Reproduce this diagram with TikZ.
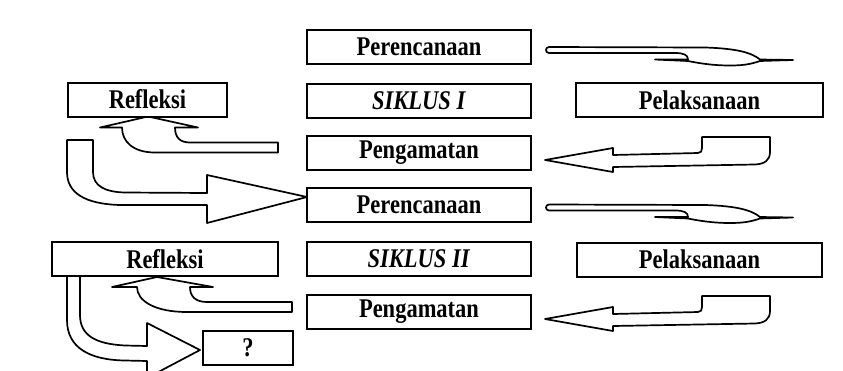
\documentclass[tikz,border=0pt]{standalone}
\usepackage{fontspec}
\usepackage{graphicx}
\setmainfont{Liberation Serif}
\usetikzlibrary{backgrounds}
\newcommand{\tall}[1]{\scalebox{1}[1.2]{#1}}
\tikzset{
  box/.style={draw, fill=white, line width=2pt, inner sep=0pt, outer sep=0pt,
    minimum height=34pt, font=\fontsize{22.5}{26}\selectfont\bfseries},
  blockarrow/.style={draw, fill=white, line width=1.7pt, line join=round}
}
\begin{document}
\begin{tikzpicture}[x=1pt, y=-1pt]
    \useasboundingbox (0,0) rectangle (843,370);
    \clip (0,0) rectangle (843,370);

    % siklus I
    \node [box, minimum width=224pt] (P1) at (419,47) {\tall{Perencanaan}};
    \node [box, minimum width=224pt] (S1) at (419,100.5) {\tall{\textit{SIKLUS I}}};
    \node [box, minimum width=224pt] (G1) at (419,152.5) {\tall{Pengamatan}};
    \node [box, minimum width=159pt] (R1) at (147.5,99.5) {\tall{Refleksi}};
    \node [box, minimum width=247pt] (L1) at (699.5,100) {\tall{Pelaksanaan}};

    % siklus II
    \node [box, minimum width=224pt] (P2) at (419,204.5) {\tall{Perencanaan}};
    \node [box, minimum width=224pt] (S2) at (419,259) {\tall{\textit{SIKLUS II}}};
    \node [box, minimum width=224pt] (G2) at (419,311.5) {\tall{Pengamatan}};
    \node [box, minimum width=226pt] (R2) at (165,259) {\tall{Refleksi}};
    \node [box, minimum width=245pt] (L2) at (699.5,259.5) {\tall{Pelaksanaan}};
    \node [box, minimum width=90pt] (Q) at (248,347.5) {\tall{?}};

    \begin{scope}[on background layer]
    % perencanaan -> pelaksanaan
    \foreach \p in {P1,P2}
      \draw [blockarrow, shift={(\p.east)}] (18,0) -- (174,0.5) .. controls (207,1.5) and (221,6) .. (229,12.5)
        -- (262,13) -- (229,14) .. controls (219,17.5) and (211,18.5) .. (199,18.5)
        .. controls (181,18.5) and (167,16) .. (157,14) -- (124,12.5) -- (157,12.5)
        .. controls (157,8) and (153,6) .. (144,6) -- (18,6) .. controls (14,6) and (14,0) .. cycle;

    % pelaksanaan -> pengamatan
    \foreach \g in {G1,G2}
      \draw [blockarrow, shift={(\g.east)}] (14,7.5) -- (82,-4.5) -- (82,2.5) -- (167,0.5)
        .. controls (170,0.5) and (171,-1.5) .. (171,-4.5) -- (171,-15.5) -- (239,-15.5) -- (239,-0.5)
        .. controls (239,7.5) and (234,11.5) .. (224,12) -- (82,14.5) -- (82,19.5) -- cycle;

    % pengamatan -> refleksi
    \draw [blockarrow, shift={(R1.south)}] (0.5,0) -- (50.5,11) -- (27.5,11)
      .. controls (27.5,21) and (32.5,26) .. (42.5,26) -- (130.5,26) -- (130.5,36) -- (7.5,36)
      .. controls (-14.5,36) and (-25.5,25) .. (-25.5,11) -- (-47.5,11) -- cycle;
    \draw [blockarrow, shift={(R2.south)}] (-8,1) -- (48,11) -- (25,11)
      .. controls (25,20) and (30,26) .. (42,26) -- (127,26) -- (127,36) -- (22,36)
      .. controls (-10,36) and (-28,25) .. (-28,11) -- (-53,11) -- cycle;

    % refleksi -> perencanaan siklus II
    \draw [blockarrow, shift={(P2.west)}] (0,-7.5) -- (-100,18.5) -- (-100,0.5) -- (-187,0.5)
      .. controls (-222,-0.5) and (-240,-11.5) .. (-240,-32.5) -- (-240,-64.5) -- (-214,-64.5) -- (-214,-32.5)
      .. controls (-214,-18.5) and (-202,-12.5) .. (-182,-12) -- (-100,-11.5) -- (-100,-29.5) -- cycle;

    % refleksi -> ?
    \draw [blockarrow, shift={(Q.west)}] (-3,2.5) -- (-56,-24.5) -- (-56,-1.5) -- (-78,-2)
      .. controls (-108,-3.5) and (-123,-12.5) .. (-123,-32.5) -- (-123,-75.5) -- (-136,-75.5) -- (-136,-27.5)
      .. controls (-136,0.5) and (-113,12.5) .. (-78,13) -- (-56,13.5) -- (-56,30.5) -- cycle;
    \end{scope}
\end{tikzpicture}
\end{document}
